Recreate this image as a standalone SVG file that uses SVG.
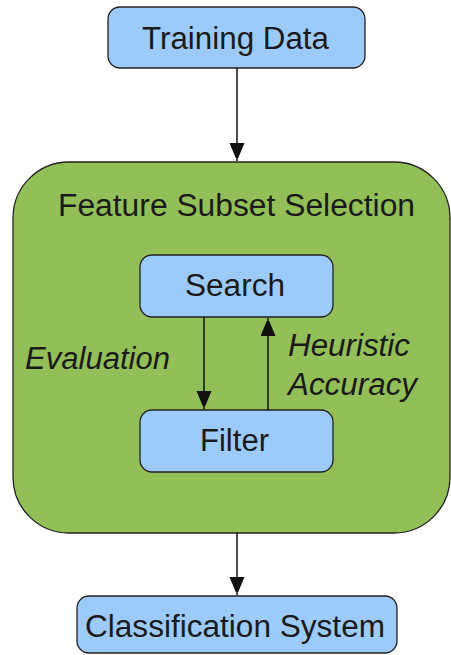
<svg xmlns="http://www.w3.org/2000/svg" width="451" height="655" viewBox="0 0 451 655">
<style>
.box{fill:#9ccbfa;stroke:#222;stroke-width:1.3}
.group{fill:#92bf57;stroke:#222;stroke-width:1.3}
text{font-family:"Liberation Sans",Arial,sans-serif;font-size:31px;fill:#1a1a1a}
.c{text-anchor:middle}
.it{font-style:italic}
.edge{stroke:#111;stroke-width:1.5;fill:none}
</style>
<defs>
<marker id="ah" viewBox="0 0 10 12" refX="12" refY="5" markerWidth="15" markerHeight="18" markerUnits="userSpaceOnUse" orient="auto">
<path d="M0,0 L12,5 L0,10 Z" fill="#111"/>
</marker>
</defs>
<rect width="451" height="655" fill="#fff"/>
<g id="feature-subset-selection">
<rect class="group" x="13" y="162" width="437" height="371" rx="56" ry="56"/>
<text class="c" x="236.5" y="216" textLength="357" lengthAdjust="spacingAndGlyphs">Feature Subset Selection</text>
</g>
<g id="training-data">
<rect class="box" x="108" y="7" width="257" height="61" rx="12"/>
<text class="c" x="235.5" y="49" textLength="187" lengthAdjust="spacingAndGlyphs">Training Data</text>
</g>
<g id="search">
<rect class="box" x="140" y="255" width="193" height="62" rx="12"/>
<text class="c" x="235" y="296" textLength="100" lengthAdjust="spacingAndGlyphs">Search</text>
</g>
<g id="filter">
<rect class="box" x="140" y="410" width="193" height="62" rx="12"/>
<text class="c" x="234.5" y="451" textLength="69" lengthAdjust="spacingAndGlyphs">Filter</text>
</g>
<g id="classification-system">
<rect class="box" x="77" y="596" width="320" height="57" rx="12"/>
<text class="c" x="235" y="637" textLength="300" lengthAdjust="spacingAndGlyphs">Classification System</text>
</g>
<g id="connectors">
<line class="edge" x1="237" y1="68" x2="237" y2="161" marker-end="url(#ah)"/>
<line class="edge" x1="204" y1="317" x2="204" y2="409" marker-end="url(#ah)"/>
<line class="edge" x1="268" y1="410" x2="268" y2="318" marker-end="url(#ah)"/>
<line class="edge" x1="237" y1="533" x2="237" y2="595" marker-end="url(#ah)"/>
<text class="it" x="25" y="369" textLength="145" lengthAdjust="spacingAndGlyphs">Evaluation</text>
<text class="it" x="288" y="356" textLength="122" lengthAdjust="spacingAndGlyphs">Heuristic</text>
<text class="it" x="288" y="395" textLength="129" lengthAdjust="spacingAndGlyphs">Accuracy</text>
</g>
</svg>
